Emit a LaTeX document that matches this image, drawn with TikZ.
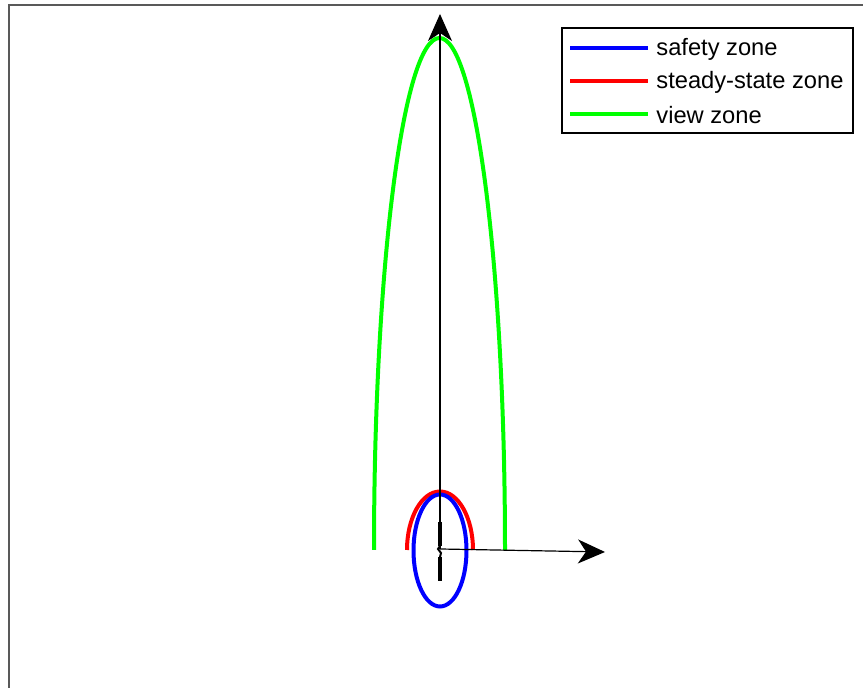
\documentclass[tikz,border=0pt]{standalone}
\usepackage{fontspec}
\setmainfont{Liberation Sans}
\usetikzlibrary{arrows.meta}
\begin{document}
\begin{tikzpicture}[x=0.5pt,y=-0.5pt,
  axis/.style={line width=0.6pt,-{Stealth[length=13.5pt,width=12pt,inset=4pt]}},
  zone/.style={line width=2pt},
  legtext/.style={anchor=west,inner sep=0pt,font=\fontsize{11.85}{13}\selectfont}]
\useasboundingbox (0,0) rectangle (863,688);
% frame
\draw[line width=0.9pt,color=black!65] (9,688) -- (9,5) -- (863,5);
% zones
\draw[zone,green] (374,550) arc[start angle=180,end angle=0,x radius=65.5,y radius=-512];
\draw[zone,red] (407,550) arc[start angle=180,end angle=0,x radius=33,y radius=-58.5];
\draw[zone,blue] (440,550.5) ellipse[x radius=26.5,y radius=56];
% axes
\coordinate (o) at (440,549);
\coordinate (ytip) at (440,14);
\coordinate (xtip) at (605,552);
\draw[axis] (o) -- (ytip);
\draw[axis] (o) -- (xtip);
% vehicle
\draw[line width=2.2pt] (440,522) -- (440,546);
\draw[line width=1pt] (440,546) -- (438,549) -- (441,553) -- (440,557);
\draw[line width=2.2pt] (440,557) -- (440,581);
% legend
\draw[line width=0.6pt,fill=white] (562,28) rectangle (853,133);
\draw[zone,blue] (570,48) -- (648,48);
\draw[zone,red] (570,81) -- (648,81);
\draw[zone,green] (570,114) -- (648,114);
\node[legtext] (l1) at (656,49) {safety zone};
\node[legtext] (l2) at (656,82) {steady-state zone};
\node[legtext] (l3) at (656,115) {view zone};
\end{tikzpicture}
\end{document}
